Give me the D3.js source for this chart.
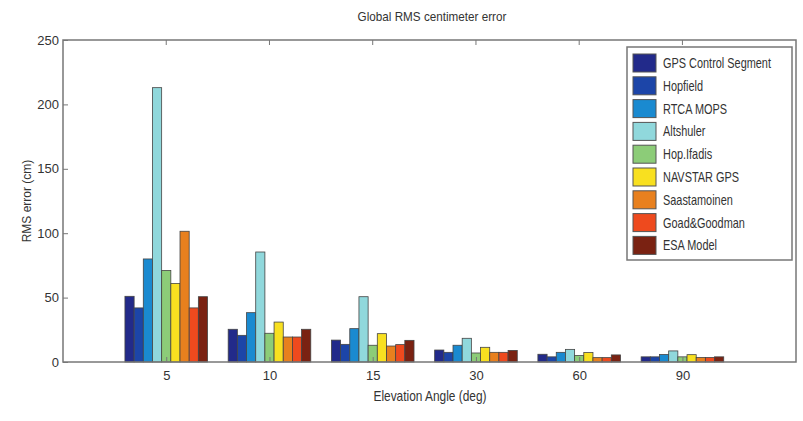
<!DOCTYPE html>
<html>
<head>
<meta charset="utf-8">
<script src="https://cdn.jsdelivr.net/npm/d3@7"></script>
<style>
  body { margin: 0; background: #fff; }
  text { font-family: "Liberation Sans", Arial, sans-serif; fill: #333; }
</style>
</head>
<body>
<div id="chart"></div>
<script>
// Данные графика
const angles = ["5", "10", "15", "30", "60", "90"];
const models = ["GPS Control Segment", "Hopfield", "RTCA MOPS", "Altshuler", "Hop.Ifadis",
                "NAVSTAR GPS", "Saastamoinen", "Goad&Goodman", "ESA Model"];
const colors = ["#222a8a", "#1c45a8", "#1a8ad0", "#90d8dc", "#8ccc78",
                "#f8e020", "#e8801e", "#ee4a1e", "#7a2212"];
// значения по моделям для каждого угла места
const gpsControl   = [51, 25.4, 17, 9.3, 6, 4];
const hopfield     = [42, 20.7, 13.7, 7.5, 4, 4];
const rtcaMops     = [80, 38.3, 25.9, 13, 7.5, 5.8];
const altshuler    = [213, 85.4, 50.7, 18.4, 9.8, 8.6];
const hopIfadis    = [71, 22.3, 13, 7, 5, 4];
const navstar      = [61, 31, 22, 11.4, 7.3, 5.7];
const saastamoinen = [101.5, 19.4, 12.4, 7.5, 3.4, 3.5];
const goadGoodman  = [42, 19.4, 13.5, 7.5, 3.4, 3.5];
const esaModel     = [50.7, 25.4, 16.8, 9, 5.5, 4];
const yTicks = [0, 50, 100, 150, 200, 250];

const series = [gpsControl, hopfield, rtcaMops, altshuler, hopIfadis,
                navstar, saastamoinen, goadGoodman, esaModel];

const width = 803, height = 421;
const margin = { left: 63, right: 7, top: 40, bottom: 59 };

const svg = d3.select("#chart").append("svg")
    .attr("width", width)
    .attr("height", height);

// Шкала X как в MATLAB: группы на позициях 1..6
const x = d3.scaleLinear().domain([0, 7.1]).range([margin.left, width - margin.right]);
const y = d3.scaleLinear().domain([0, 250]).range([height - margin.bottom, margin.top]);

const groupW = 0.8;
const barW = groupW / models.length;

// Столбцы
series.forEach((vals, i) => {
    svg.append("g")
        .selectAll("rect")
        .data(vals)
        .enter().append("rect")
        .attr("x", (d, j) => x(j + 1 - groupW / 2 + i * barW))
        .attr("y", d => y(d))
        .attr("width", x(barW) - x(0))
        .attr("height", d => y(0) - y(d))
        .attr("fill", colors[i])
        .attr("stroke", "#444")
        .attr("stroke-width", 0.8);
});

// Рамка осей
svg.append("rect")
    .attr("x", x(0)).attr("y", y(250))
    .attr("width", x(7.1) - x(0)).attr("height", y(0) - y(250))
    .attr("fill", "none").attr("stroke", "#777").attr("stroke-width", 1.5);

// Ось Y
const yAxis = svg.append("g")
    .attr("transform", `translate(${x(0)},0)`)
    .call(d3.axisLeft(y).tickValues(yTicks).tickSize(-5).tickPadding(4));
yAxis.select(".domain").remove();
yAxis.selectAll("line").attr("stroke", "#777");
yAxis.selectAll("text").attr("font-size", 13).attr("fill", "#333");

// Ось X
const xAxis = svg.append("g")
    .attr("transform", `translate(0,${y(0)})`)
    .call(d3.axisBottom(x).tickValues(d3.range(1, 7)).tickFormat((d, i) => angles[i])
        .tickSize(-5).tickPadding(9));
xAxis.select(".domain").remove();
xAxis.selectAll("line").attr("stroke", "#777");
xAxis.selectAll("text").attr("font-size", 13).attr("fill", "#333");

// Верхние засечки
svg.append("g")
    .selectAll("line")
    .data(d3.range(1, 7))
    .enter().append("line")
    .attr("x1", d => x(d)).attr("x2", d => x(d))
    .attr("y1", y(250)).attr("y2", y(250) + 5)
    .attr("stroke", "#777");

// Подписи (узкий шрифт имитируем сжатием по горизонтали)
svg.append("text")
    .attr("transform", "translate(432,21) scale(0.9,1)")
    .attr("text-anchor", "middle")
    .attr("font-size", 13)
    .text("Global RMS centimeter error");

svg.append("text")
    .attr("transform", "translate(430,401) scale(0.85,1)")
    .attr("text-anchor", "middle")
    .attr("font-size", 14)
    .text("Elevation Angle (deg)");

svg.append("text")
    .attr("transform", `translate(31,${(y(0) + y(250)) / 2}) rotate(-90)`)
    .attr("text-anchor", "middle")
    .attr("font-size", 12)
    .text("RMS error (cm)");

// Легенда
const legend = svg.append("g").attr("transform", "translate(627,47)");
legend.append("rect")
    .attr("width", 165).attr("height", 213)
    .attr("fill", "#fff").attr("stroke", "#777").attr("stroke-width", 1.5);

const item = legend.selectAll("g.item")
    .data(models)
    .enter().append("g")
    .attr("class", "item")
    .attr("transform", (d, i) => `translate(0,${16 + i * 22.8})`);

item.append("rect")
    .attr("x", 6).attr("y", -9)
    .attr("width", 23).attr("height", 18)
    .attr("fill", (d, i) => colors[i])
    .attr("stroke", "#555").attr("stroke-width", 1);

item.append("text")
    .attr("transform", "translate(36,5) scale(0.78,1)")
    .attr("font-size", 14)
    .text(d => d);
</script>
</body>
</html>
